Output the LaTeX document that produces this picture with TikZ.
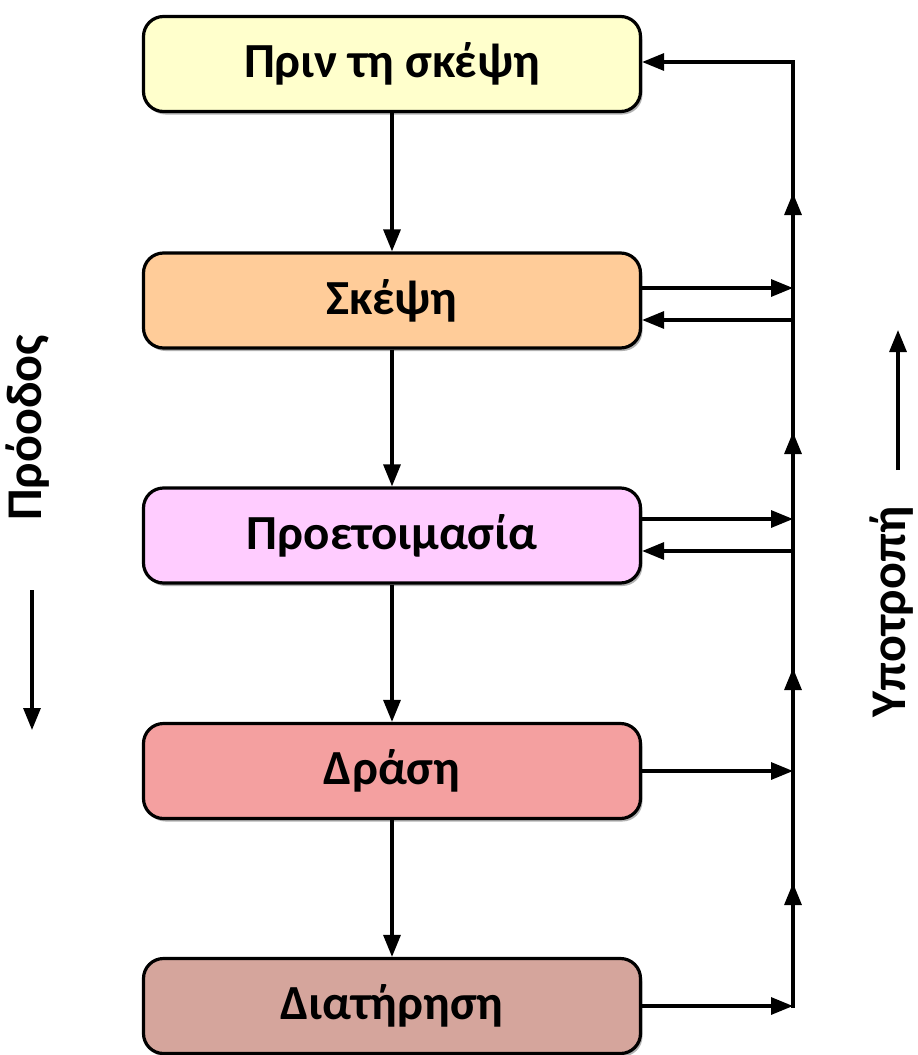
\documentclass[tikz,border=0pt]{standalone}
\usepackage{fontspec}
\setmainfont{Carlito}
\usetikzlibrary{arrows.meta,shadows}
\definecolor{c1}{HTML}{FFFFCC}
\definecolor{c2}{HTML}{FFCC99}
\definecolor{c3}{HTML}{FFCCFF}
\definecolor{c4}{HTML}{F4A0A0}
\definecolor{c5}{HTML}{D5A59C}
\tikzset{
  stage/.style={draw=black, line width=3.2pt, rounded corners=20pt,
    minimum width=497pt, minimum height=95pt, inner sep=0pt,
    font=\fontsize{49}{56}\selectfont\bfseries,
    drop shadow={shadow xshift=2pt, shadow yshift=-3pt, opacity=0.3, fill=black}},
  conn/.style={line width=3.2pt, draw=black},
  arr/.style={conn, -{Triangle[length=22pt,width=17pt]}},
  side/.style={font=\fontsize{50}{56}\selectfont\bfseries, rotate=90}
}
\begin{document}
\begin{tikzpicture}[x=1pt,y=-1pt]
\useasboundingbox (0,0) rectangle (918,1055);
\node[stage, fill=c1] (b1) at (392,64) {Πριν τη σκέψη};
\node[stage, fill=c2] (b2) at (392,300.5) {Σκέψη};
\node[stage, fill=c3] (b3) at (392,535.5) {Προετοιμασία};
\node[stage, fill=c4] (b4) at (392,771) {Δράση};
\node[stage, fill=c5] (b5) at (392,1006) {Διατήρηση};
% progress arrows
\draw[arr] (b1.south) -- (b2.north);
\draw[arr] (b2.south) -- (b3.north);
\draw[arr] (b3.south) -- (b4.north);
\draw[arr] (b4.south) -- (b5.north);
% relapse line
\coordinate (j1) at (793,62);
\coordinate (j2a) at (793,288);
\coordinate (j2b) at (793,320);
\coordinate (j3a) at (793,519);
\coordinate (j3b) at (793,551);
\coordinate (j4) at (793,771);
\coordinate (j5) at (793,1006);
\coordinate (t1) at (793,193);
\coordinate (t2) at (793,432);
\coordinate (t3) at (793,668);
\coordinate (t4) at (793,883);
\draw[conn, line cap=rect] (j5) -- (j1);
\draw[arr] (j5) -- (t4);
\draw[arr] (j4) -- (t3);
\draw[arr] (j3a) -- (t2);
\draw[arr] (j2a) -- (t1);
\draw[arr] (j1) -- (b1.east |- j1);
\draw[arr] (b2.east |- j2a) -- (j2a);
\draw[arr] (j2b) -- (b2.east |- j2b);
\draw[arr] (b3.east |- j3a) -- (j3a);
\draw[arr] (j3b) -- (b3.east |- j3b);
\draw[arr] (b4.east |- j4) -- (j4);
\draw[arr] (b5.east |- j5) -- (j5);
% side labels
\node[side] (prog) at (28,428) {Πρόοδος};
\coordinate (pa) at (32,590);
\coordinate (pb) at (32,730);
\draw[arr] (pa) -- (pb);
\node[side] (rel) at (892,612) {Υποτροπή};
\coordinate (ra) at (898,470);
\coordinate (rb) at (898,330);
\draw[arr] (ra) -- (rb);
\end{tikzpicture}
\end{document}
